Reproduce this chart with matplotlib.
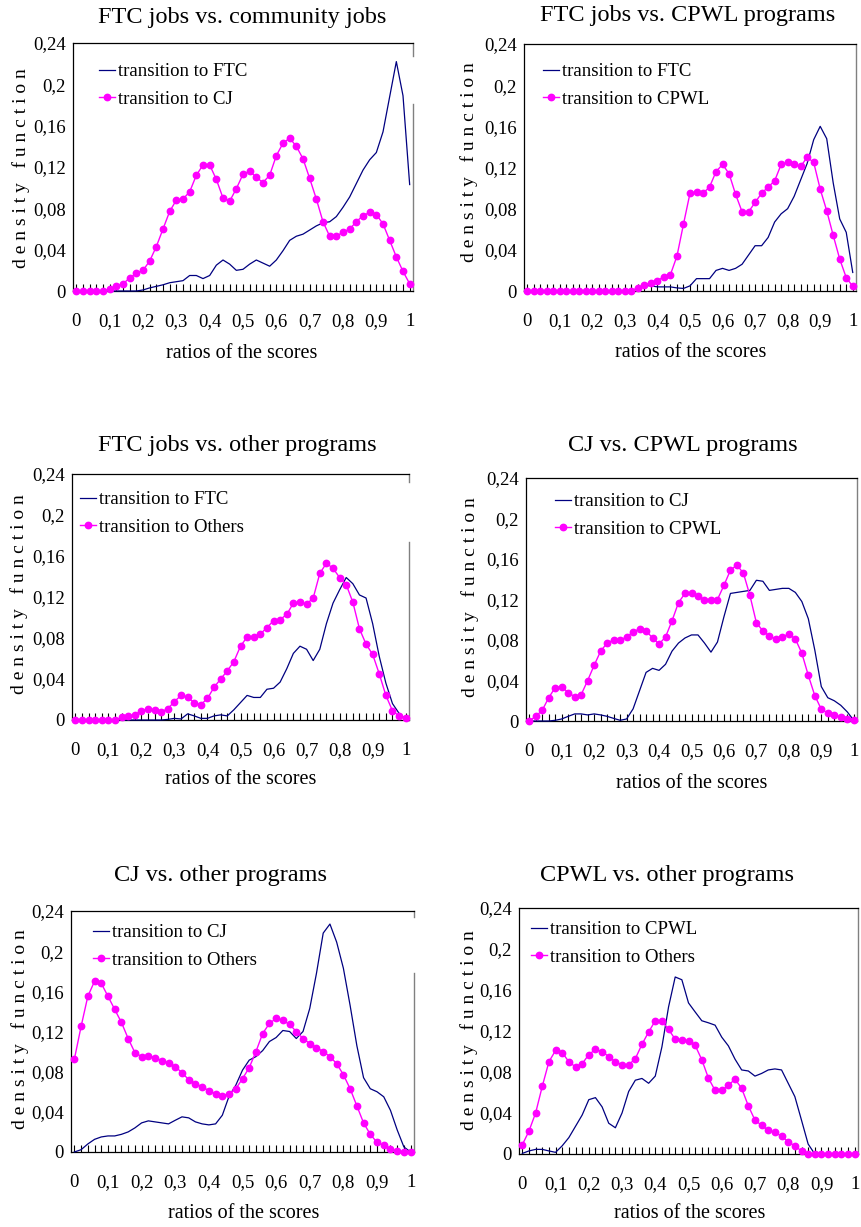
import numpy as np
import matplotlib.pyplot as plt

W, H = 861, 1227
plt.rcParams['font.family'] = ['Liberation Serif', 'DejaVu Serif']

# categories: score ratios 0, 0.02, ..., 1
ratios = np.linspace(0, 1, 51)

# FTC jobs vs. community jobs
p1_ftc = [0, 0, 0, 0, 0, 0, 0, 0, 0, 0,
          0.001, 0.003, 0.0045, 0.006, 0.008, 0.009, 0.010, 0.015, 0.015, 0.012,
          0.015, 0.025, 0.030, 0.026, 0.020, 0.021, 0.026, 0.030, 0.027, 0.024,
          0.030, 0.039, 0.049, 0.053, 0.055, 0.059, 0.063, 0.066, 0.067, 0.072,
          0.081, 0.091, 0.104, 0.117, 0.127, 0.134, 0.154, 0.188, 0.222, 0.189,
          0.103]
p1_cj = [0, 0, 0, 0, 0, 0.002, 0.0045, 0.007, 0.0126, 0.017,
         0.020, 0.029, 0.043, 0.060, 0.077, 0.088, 0.089, 0.096, 0.112, 0.122,
         0.122, 0.108, 0.090, 0.087, 0.099, 0.113, 0.116, 0.110, 0.105, 0.112,
         0.131, 0.143, 0.148, 0.140, 0.128, 0.109, 0.089, 0.067, 0.053, 0.053,
         0.057, 0.060, 0.067, 0.073, 0.076, 0.074, 0.065, 0.049, 0.033, 0.019,
         0.007]

# FTC jobs vs. CPWL programs
p2_ftc = [0, 0, 0, 0, 0, 0, 0, 0, 0, 0,
          0, 0, 0, 0, 0, 0, 0, 0.003, 0.0055, 0.005,
          0.004, 0.004, 0.004, 0.003, 0.0025, 0.005, 0.012, 0.012, 0.012, 0.020,
          0.022, 0.020, 0.022, 0.026, 0.035, 0.044, 0.044, 0.052, 0.067, 0.075,
          0.080, 0.092, 0.108, 0.124, 0.147, 0.160, 0.148, 0.105, 0.070, 0.057,
          0.018]
p2_cpwl = [0, 0, 0, 0, 0, 0, 0, 0, 0, 0,
           0, 0, 0, 0, 0, 0, 0, 0.003, 0.006, 0.008,
           0.010, 0.014, 0.016, 0.034, 0.065, 0.095, 0.096, 0.095, 0.101, 0.116,
           0.123, 0.114, 0.094, 0.077, 0.077, 0.086, 0.095, 0.101, 0.107, 0.123,
           0.125, 0.123, 0.121, 0.130, 0.125, 0.099, 0.078, 0.054, 0.031, 0.013,
           0.0045]

# FTC jobs vs. other programs
p3_ftc = [0, 0, 0, 0, 0, 0, 0, 0, 0, 0,
          0, 0, 0, 0, 0.0006, 0.0016, 0.001, 0.006, 0.004, 0.0016,
          0.0016, 0.004, 0.005, 0.004, 0.010, 0.017, 0.024, 0.022, 0.022, 0.030,
          0.031, 0.037, 0.050, 0.065, 0.072, 0.069, 0.058, 0.069, 0.094, 0.114,
          0.127, 0.139, 0.133, 0.122, 0.119, 0.094, 0.062, 0.036, 0.016, 0.0065,
          0.0006]
p3_others = [0, 0, 0, 0, 0, 0, 0, 0.0026, 0.004, 0.005,
             0.009, 0.011, 0.010, 0.008, 0.011, 0.018, 0.024, 0.022, 0.017, 0.015,
             0.021, 0.032, 0.040, 0.048, 0.057, 0.072, 0.081, 0.081, 0.084, 0.090,
             0.097, 0.098, 0.103, 0.114, 0.115, 0.113, 0.119, 0.143, 0.153, 0.148,
             0.139, 0.132, 0.115, 0.089, 0.074, 0.064, 0.045, 0.024, 0.009, 0.004,
             0.0016]

# CJ vs. CPWL programs
p4_cj = [0, 0, 0, 0, 0.0007, 0.002, 0.0046, 0.007, 0.007, 0.006,
         0.007, 0.006, 0.0046, 0.0026, 0.0007, 0.002, 0.012, 0.030, 0.048, 0.052,
         0.050, 0.056, 0.069, 0.077, 0.082, 0.085, 0.085, 0.077, 0.068, 0.078,
         0.103, 0.126, 0.127, 0.128, 0.129, 0.139, 0.138, 0.129, 0.130, 0.131,
         0.131, 0.127, 0.118, 0.101, 0.070, 0.034, 0.023, 0.020, 0.0155, 0.009,
         0.0007]
p4_cpwl = [0, 0.0046, 0.0106, 0.023, 0.033, 0.034, 0.028, 0.024, 0.026, 0.040,
           0.055, 0.069, 0.077, 0.080, 0.080, 0.083, 0.088, 0.091, 0.089, 0.082,
           0.076, 0.083, 0.099, 0.117, 0.126, 0.126, 0.123, 0.120, 0.120, 0.120,
           0.134, 0.149, 0.154, 0.146, 0.124, 0.097, 0.089, 0.084, 0.081, 0.083,
           0.086, 0.081, 0.067, 0.045, 0.025, 0.0116, 0.008, 0.006, 0.004, 0.0017,
           0.0007]

# CJ vs. other programs
p5_cj = [0, 0.0023, 0.008, 0.0126, 0.015, 0.016, 0.016, 0.0176, 0.020, 0.024,
         0.029, 0.031, 0.030, 0.029, 0.028, 0.0316, 0.035, 0.034, 0.030, 0.028,
         0.027, 0.028, 0.0366, 0.0555, 0.0665, 0.0815, 0.0915, 0.095, 0.101, 0.110,
         0.114, 0.121, 0.120, 0.113, 0.120, 0.143, 0.178, 0.218, 0.227, 0.209,
         0.183, 0.146, 0.106, 0.074, 0.063, 0.060, 0.055, 0.0415, 0.022, 0.005,
         0]
p5_others = [0.0924, 0.125, 0.155, 0.170, 0.168, 0.155, 0.142, 0.129, 0.113, 0.099,
             0.095, 0.096, 0.094, 0.091, 0.089, 0.085, 0.079, 0.072, 0.068, 0.065,
             0.061, 0.058, 0.056, 0.058, 0.063, 0.073, 0.084, 0.100, 0.118, 0.128,
             0.133, 0.131, 0.127, 0.120, 0.113, 0.108, 0.104, 0.100, 0.095, 0.088,
             0.077, 0.063, 0.046, 0.029, 0.0176, 0.0096, 0.0066, 0.003, 0.001, 0.0003,
             0]

# CPWL vs. other programs
p6_cpwl = [0.0006, 0.003, 0.0045, 0.0045, 0.003, 0.0016, 0.008, 0.016, 0.027, 0.038,
           0.053, 0.055, 0.046, 0.030, 0.0256, 0.040, 0.061, 0.072, 0.0737, 0.069,
           0.076, 0.1045, 0.1435, 0.1727, 0.170, 0.1474, 0.1386, 0.130, 0.128, 0.1257,
           0.114, 0.1055, 0.0925, 0.082, 0.081, 0.076, 0.0786, 0.082, 0.083, 0.082,
           0.069, 0.056, 0.033, 0.0097, 0, 0, 0, 0, 0, 0,
           0]
p6_others = [0.009, 0.0224, 0.040, 0.066, 0.090, 0.101, 0.099, 0.090, 0.085, 0.088,
             0.097, 0.102, 0.100, 0.095, 0.090, 0.087, 0.087, 0.093, 0.107, 0.119,
             0.130, 0.130, 0.1215, 0.112, 0.111, 0.110, 0.106, 0.092, 0.074, 0.062,
             0.062, 0.067, 0.073, 0.064, 0.047, 0.033, 0.028, 0.023, 0.021, 0.0175,
             0.012, 0.0078, 0.003, 0, 0, 0, 0, 0, 0, 0,
             0]

titles = ['FTC jobs vs. community jobs', 'FTC jobs vs. CPWL programs',
          'FTC jobs vs. other programs', 'CJ vs. CPWL programs',
          'CJ vs. other programs', 'CPWL vs. other programs']
blue_labels = ['transition to FTC', 'transition to FTC', 'transition to FTC',
               'transition to CJ', 'transition to CJ', 'transition to CPWL']
pink_labels = ['transition to CJ', 'transition to CPWL', 'transition to Others',
               'transition to CPWL', 'transition to Others', 'transition to Others']
blue_series = [p1_ftc, p2_ftc, p3_ftc, p4_cj, p5_cj, p6_cpwl]
pink_series = [p1_cj, p2_cpwl, p3_others, p4_cpwl, p5_others, p6_others]

y_ticks = [0, 0.04, 0.08, 0.12, 0.16, 0.2, 0.24]
y_ticklabels = ['0', '0,04', '0,08', '0,12', '0,16', '0,2', '0,24']
x_ticks = [0, 0.1, 0.2, 0.3, 0.4, 0.5, 0.6, 0.7, 0.8, 0.9, 1]
x_ticklabels = ['0', '0,1', '0,2', '0,3', '0,4', '0,5', '0,6', '0,7', '0,8', '0,9', '1']

# layout in pixels of the reference (left, top, right, bottom)
boxes = [(73, 43, 413, 291), (524, 44, 856, 291),
         (72, 474, 409, 720), (526, 478, 857, 721),
         (71, 911, 414, 1152), (519, 908, 858, 1154)]
title_pos = [(242, 17), (688, 16), (237, 446), (683, 446), (221, 876), (667, 875)]
ylabel_pos = [(21, 168), (469, 162), (19, 594), (470, 597), (20, 1029), (469, 1030)]
xlabel_pos = [(242, 354), (691, 353), (241, 780), (692, 783), (244, 1214), (690, 1213)]
legend_off = [(26, 28), (19, 27), (8, 25), (29, 23), (22, 21), (12, 21)]
right_spine = [[(0, 0.754), (0.948, 1)], [(0, 1)],
               [(0, 0.724), (0.967, 1)], [(0, 1)],
               [(0, 0.743), (0.975, 1)], [(0, 1)]]


def fx(x):
    return x / W


def fy(y):
    return 1 - y / H


fig = plt.figure(figsize=(W / 100, H / 100), dpi=100)

for i in range(6):
    l, t, r, b = boxes[i]
    ax = fig.add_axes([fx(l), fy(b), (r - l) / W, (b - t) / H])
    ax.plot(ratios, blue_series[i], color='#000080', lw=0.9,
            label=blue_labels[i], clip_on=False, zorder=3)
    ax.plot(ratios, pink_series[i], color='#FF00FF', lw=1.0, marker='o', ms=4.6,
            label=pink_labels[i], clip_on=False, zorder=4)

    ax.set_xlim(-0.01, 1.01)
    ax.set_ylim(0, 0.24)
    ax.set_xticks(x_ticks)
    ax.set_xticklabels(x_ticklabels)
    ax.set_xticks(ratios, minor=True)
    ax.set_yticks(y_ticks)
    ax.set_yticklabels(y_ticklabels)
    ax.tick_params(axis='x', which='both', direction='in', length=5, width=0.8,
                   pad=16, labelsize=13.5, color='black')
    ax.tick_params(axis='y', length=0, pad=5, labelsize=13.5)

    for side in ['left', 'top', 'bottom']:
        ax.spines[side].set_linewidth(0.9)
        ax.spines[side].set_color('black')
    ax.spines['right'].set_visible(False)
    for y0, y1 in right_spine[i]:
        ax.plot([1, 1], [y0, y1], transform=ax.transAxes, color='#808080',
                lw=1.0, clip_on=False, zorder=2)

    dx, dy = legend_off[i]
    ax.legend(loc='upper left',
              bbox_to_anchor=(dx / (r - l), 1 - (dy - 8) / (b - t)),
              frameon=False, fontsize=13.5, handlelength=0.85, handletextpad=0.15,
              borderpad=0, borderaxespad=0, labelspacing=0.55, numpoints=1)

    fig.text(fx(title_pos[i][0]), fy(title_pos[i][1]), titles[i],
             ha='center', va='center', fontsize=17.5)
    fig.text(fx(ylabel_pos[i][0]), fy(ylabel_pos[i][1]),
             'd e n s i t y   f u n c t i o n', rotation=90,
             ha='center', va='center', fontsize=14)
    fig.text(fx(xlabel_pos[i][0]), fy(xlabel_pos[i][1]), 'ratios of the scores',
             ha='center', va='center', fontsize=14.5)

fig.savefig('out.png', dpi=100)
